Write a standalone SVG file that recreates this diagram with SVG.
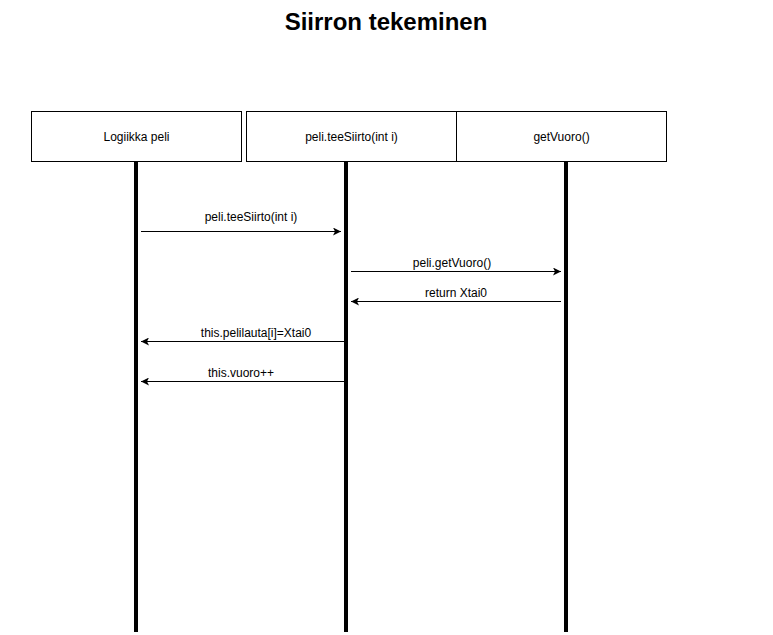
<svg xmlns="http://www.w3.org/2000/svg" width="773" height="635" viewBox="0 0 773 635">
<style>
.box{fill:#fff;stroke:#000;stroke-width:1}
.life{stroke:#000;stroke-width:4}
.msg{stroke:#000;stroke-width:1;fill:none;marker-end:url(#arr)}
text{font-family:"Liberation Sans",Arial,sans-serif;font-size:12px;fill:#000;text-anchor:middle}
.title{font-size:24px;font-weight:bold}
</style>
<defs>
<marker id="arr" markerWidth="10" markerHeight="8" refX="8" refY="4" orient="auto" markerUnits="userSpaceOnUse">
<path d="M0,0 L8,4 L0,8 L2,4 Z" fill="#000"/>
</marker>
</defs>
<rect width="773" height="635" fill="#fff"/>
<text class="title" x="386" y="30">Siirron tekeminen</text>
<g id="node-logiikka">
<rect class="box" x="31.5" y="111.5" width="210" height="50"/>
<text x="136.5" y="141">Logiikka peli</text>
<line class="life" x1="136" y1="161" x2="136" y2="632"/>
</g>
<g id="node-teesiirto">
<rect class="box" x="246.5" y="111.5" width="210" height="50"/>
<text x="351.5" y="141">peli.teeSiirto(int i)</text>
<line class="life" x1="346" y1="161" x2="346" y2="632"/>
</g>
<g id="node-getvuoro">
<rect class="box" x="456.5" y="111.5" width="210" height="50"/>
<text x="561.5" y="141">getVuoro()</text>
<line class="life" x1="566" y1="161" x2="566" y2="632"/>
</g>
<g id="connectors">
<line class="msg" x1="141" y1="231.5" x2="341" y2="231.5"/>
<text x="251" y="221">peli.teeSiirto(int i)</text>
<line class="msg" x1="351" y1="271.5" x2="561" y2="271.5"/>
<text x="452" y="267">peli.getVuoro()</text>
<line class="msg" x1="561" y1="301.5" x2="351" y2="301.5"/>
<text x="456" y="297">return Xtai0</text>
<line class="msg" x1="346" y1="341.5" x2="141" y2="341.5"/>
<text x="256" y="337">this.pelilauta[i]=Xtai0</text>
<line class="msg" x1="346" y1="381.5" x2="141" y2="381.5"/>
<text x="241" y="377">this.vuoro++</text>
</g>
</svg>
